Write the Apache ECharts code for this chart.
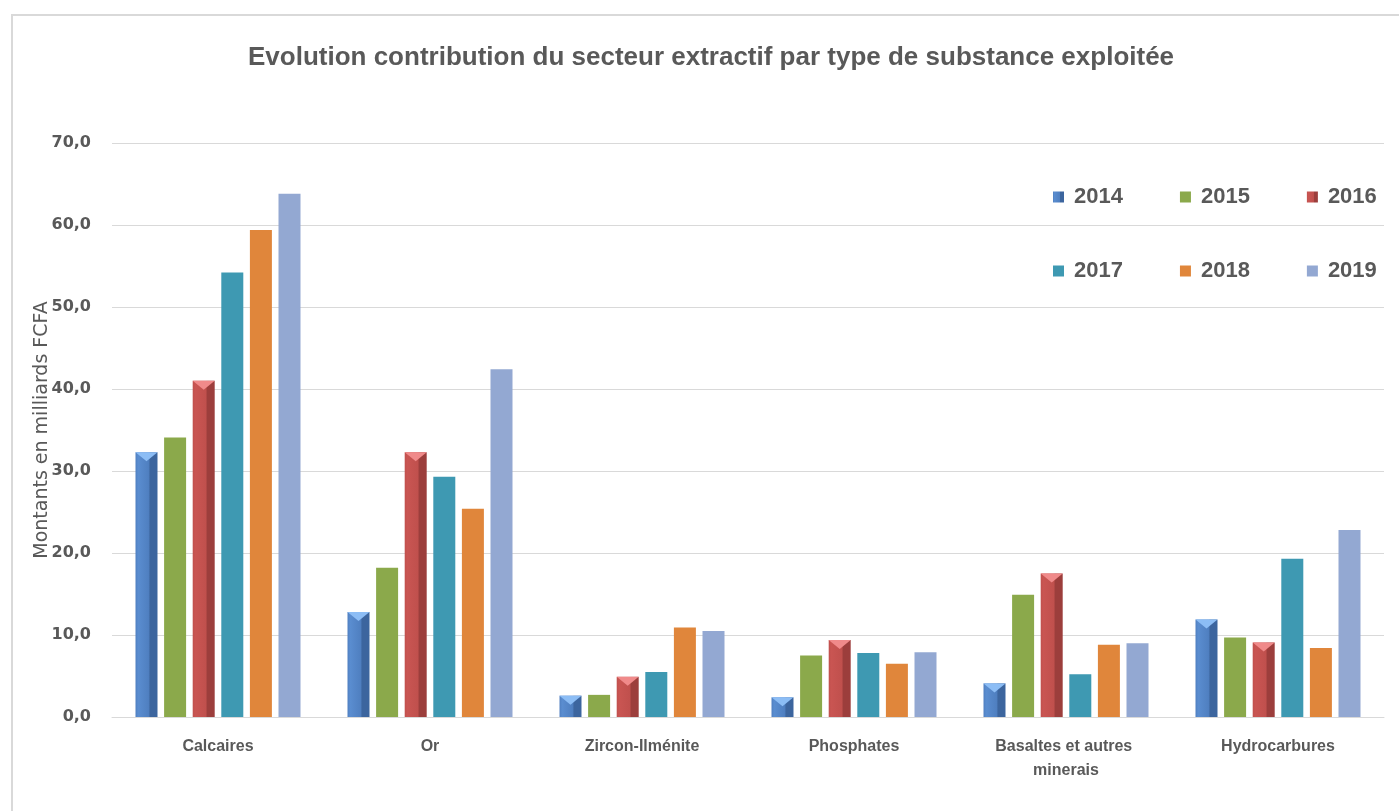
<!DOCTYPE html>
<html>
<head>
<meta charset="utf-8">
<script src="https://cdn.jsdelivr.net/npm/echarts@6/dist/echarts.min.js"></script>
<style>
  html, body { margin: 0; padding: 0; background: #ffffff; }
  #chart { width: 1399px; height: 811px; }
</style>
</head>
<body>
<div id="chart"></div>
<script>
// Substances exploitées (catégories de l'axe horizontal)
const categories = ['Calcaires', 'Or', 'Zircon-Ilménite', 'Phosphates', 'Basaltes et autres minerais', 'Hydrocarbures'];
const years = ['2014', '2015', '2016', '2017', '2018', '2019'];

// Montants en milliards FCFA, par année
const v2014 = [32.3, 12.8, 2.6, 2.4, 4.1, 11.9];
const v2015 = [34.1, 18.2, 2.7, 7.5, 14.9, 9.7];
const v2016 = [41.0, 32.3, 4.9, 9.4, 17.5, 9.1];
const v2017 = [54.2, 29.3, 5.5, 7.8, 5.2, 19.3];
const v2018 = [59.4, 25.4, 10.9, 6.5, 8.8, 8.4];
const v2019 = [63.8, 42.4, 10.5, 7.9, 9.0, 22.8];

// Graduations de l'axe vertical
const yMin = 0, yMax = 70, yStep = 10;

const values = [v2014, v2015, v2016, v2017, v2018, v2019];

const grey = '#595959';

// Bevelled fills for the 2014 and 2016 bars
function bevel(light, mid, dark) {
  return new echarts.graphic.LinearGradient(0, 0, 1, 0, [
    { offset: 0, color: mid },
    { offset: 0.12, color: light },
    { offset: 0.6, color: mid },
    { offset: 0.66, color: dark },
    { offset: 1, color: dark }
  ]);
}

const fills = [
  bevel('#5A8DD0', '#4F7FC0', '#3C659E'),
  '#8BA94B',
  bevel('#C95552', '#C0504D', '#9C3E3C'),
  '#3E99B2',
  '#E0863B',
  '#93A8D2'
];
const capColors = ['#8CBDF5', null, '#F08A8A', null, null, null];

const series = years.map((y, k) => {
  const s = {
    name: y,
    type: 'bar',
    barWidth: 22,
    barGap: '30%',
    data: values[k],
    itemStyle: { color: fills[k] },
    emphasis: { disabled: true }
  };
  if (capColors[k]) {
    s.markPoint = {
      symbol: 'triangle',
      symbolRotate: 180,
      symbolSize: [22, 9],
      symbolOffset: [0, 4.5],
      label: { show: false },
      itemStyle: { color: capColors[k] },
      silent: true,
      data: values[k].map((v, i) => ({ coord: [i, v] }))
    };
  }
  return s;
});

const legendBase = {
  orient: 'horizontal',
  left: 1048,
  itemWidth: 11,
  itemHeight: 11,
  itemGap: 57,
  icon: 'rect',
  selectedMode: false,
  textStyle: {
    color: grey,
    fontFamily: 'Liberation Sans',
    fontWeight: 'bold',
    fontSize: 22,
    padding: [0, 0, 0, 5]
  }
};

const chart = echarts.init(document.getElementById('chart'), null, { renderer: 'canvas' });
chart.setOption({
  animation: false,
  backgroundColor: '#ffffff',
  graphic: [{
    type: 'rect',
    shape: { x: 12, y: 15, width: 1420, height: 830 },
    style: { fill: 'none', stroke: '#D9D9D9', lineWidth: 2 },
    silent: true,
    z: -10
  }],
  title: {
    text: 'Evolution contribution du secteur extractif par type de substance exploitée',
    left: 243,
    top: 40,
    textStyle: {
      color: grey,
      fontFamily: 'Liberation Sans',
      fontWeight: 'bold',
      fontSize: 26
    }
  },
  legend: [
    Object.assign({}, legendBase, { top: 181, data: years.slice(0, 3) }),
    Object.assign({}, legendBase, { top: 255, data: years.slice(3) })
  ],
  grid: { left: 112, right: 15, top: 143, bottom: 94, containLabel: false },
  xAxis: {
    type: 'category',
    data: categories,
    axisLine: { lineStyle: { color: '#D9D9D9', width: 1 } },
    axisTick: { show: false },
    axisLabel: {
      color: grey,
      fontFamily: 'Liberation Sans',
      fontWeight: 'bold',
      fontSize: 16,
      margin: 18,
      lineHeight: 24,
      width: 180,
      overflow: 'break',
      interval: 0
    }
  },
  yAxis: {
    type: 'value',
    min: yMin,
    max: yMax,
    interval: yStep,
    name: 'Montants en milliards FCFA',
    nameLocation: 'middle',
    nameGap: 60,
    nameMoveOverlap: false,
    nameTextStyle: {
      color: grey,
      fontFamily: 'DejaVu Sans',
      fontSize: 19
    },
    axisLine: { show: false },
    axisTick: { show: false },
    splitLine: { lineStyle: { color: '#D9D9D9', width: 1 } },
    axisLabel: {
      color: grey,
      fontFamily: 'DejaVu Sans',
      fontWeight: 'bold',
      fontSize: 16,
      margin: 21,
      formatter: v => v.toFixed(1).replace('.', ',')
    }
  },
  series: series
});
</script>
</body>
</html>
